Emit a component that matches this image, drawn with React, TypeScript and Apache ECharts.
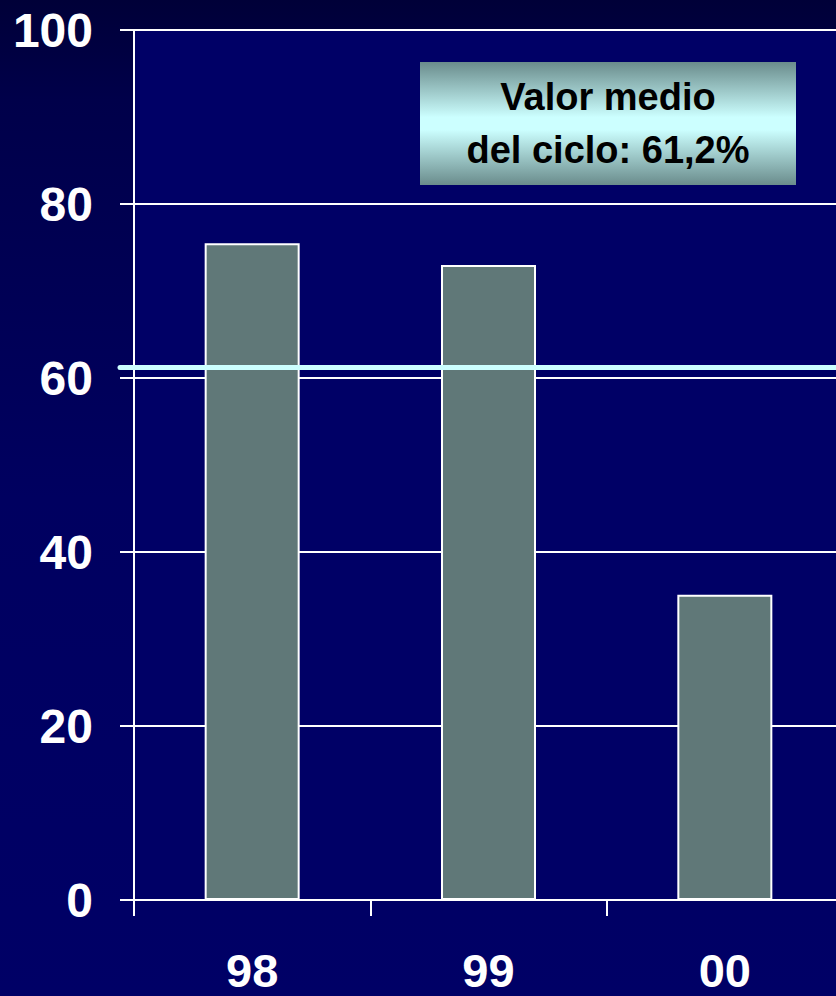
import React, { useEffect, useRef } from "react";
import * as echarts from "echarts";

const categories = ["98", "99", "00"];
const values = [75.5, 73.0, 35.1];
const average = 61.2;
const yTicks = { min: 0, max: 100, interval: 20 };
const noteLines = ["Valor medio", "del ciclo: 61,2%"];

export default function App() {
  const ref = useRef<HTMLDivElement>(null);
  useEffect(() => {
    if (!ref.current) return;
    const chart = echarts.init(ref.current, null, { renderer: "svg" });
    const font = "Liberation Sans, Arial, sans-serif";
    chart.setOption({
      animation: false,
      backgroundColor: new echarts.graphic.LinearGradient(0, 0, 0, 1, [
        { offset: 0, color: "#000038" },
        { offset: 0.1, color: "#00004a" },
        { offset: 0.5, color: "#000060" },
        { offset: 1, color: "#000066" },
      ]),
      grid: {
        left: 134,
        top: 30,
        bottom: 96,
        right: -7,
        show: true,
        backgroundColor: "#000066",
        borderWidth: 0,
        containLabel: false,
        outerBoundsMode: "none",
      },
      xAxis: {
        type: "category",
        data: categories,
        axisLine: { lineStyle: { color: "#ffffff", width: 2 } },
        axisTick: { show: true, length: 16, lineStyle: { color: "#ffffff", width: 2 } },
        axisLabel: {
          color: "#ffffff",
          fontSize: 47,
          fontWeight: "bold",
          fontFamily: font,
          margin: 47,
        },
      },
      yAxis: {
        type: "value",
        min: yTicks.min,
        max: yTicks.max,
        interval: yTicks.interval,
        axisLine: { show: true, lineStyle: { color: "#ffffff", width: 2 } },
        axisTick: { show: true, length: 14, lineStyle: { color: "#ffffff", width: 2 } },
        splitLine: { show: true, lineStyle: { color: "#ffffff", width: 2 } },
        axisLabel: {
          color: "#ffffff",
          fontSize: 48,
          fontWeight: "bold",
          fontFamily: font,
          margin: 41,
        },
      },
      series: [
        {
          type: "bar",
          data: values,
          barWidth: 95,
          itemStyle: { color: "#607878", borderColor: "#ffffff", borderWidth: 2 },
          z: 3,
        },
      ],
    });
    const yAvg = chart.convertToPixel({ yAxisIndex: 0 }, average) as number;
    chart.setOption({
      graphic: [
        {
          type: "line",
          z: 10,
          shape: { x1: 120, y1: yAvg, x2: 840, y2: yAvg },
          style: { stroke: "#ccffff", lineWidth: 5, lineCap: "round" },
        },
        {
          type: "group",
          left: 420,
          top: 62,
          z: 20,
          children: [
            {
              type: "rect",
              shape: { x: 0, y: 0, width: 376, height: 123 },
              style: {
                fill: new echarts.graphic.LinearGradient(0, 0, 0, 1, [
                  { offset: 0, color: "#6a8c8c" },
                  { offset: 0.45, color: "#ccffff" },
                  { offset: 0.55, color: "#ccffff" },
                  { offset: 1, color: "#6a8c8c" },
                ]),
              },
            },
            {
              type: "text",
              x: 188,
              y: 35,
              style: {
                text: noteLines[0],
                fill: "#000000",
                font: `bold 38px ${font}`,
                align: "center",
                verticalAlign: "middle",
              },
            },
            {
              type: "text",
              x: 188,
              y: 88,
              style: {
                text: noteLines[1],
                fill: "#000000",
                font: `bold 38px ${font}`,
                align: "center",
                verticalAlign: "middle",
              },
            },
          ],
        },
      ],
    });
    return () => chart.dispose();
  }, []);
  return (
    <div
      ref={ref}
      style={{ position: "absolute", left: 0, top: 0, width: 836, height: 996 }}
    />
  );
}
